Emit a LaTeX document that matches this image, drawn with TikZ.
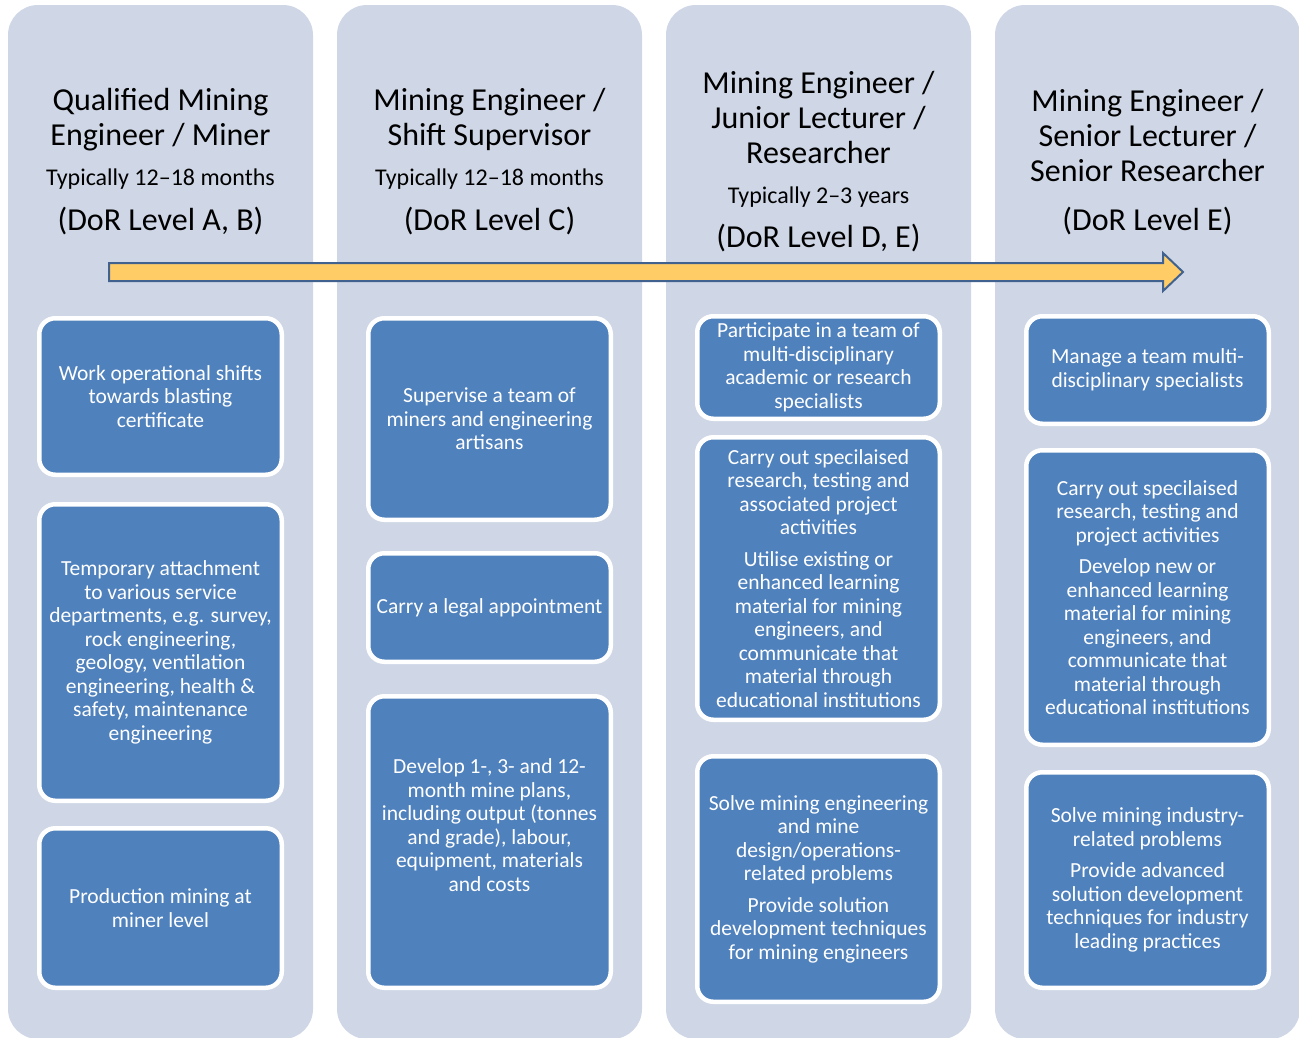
\documentclass[tikz,border=0pt]{standalone}
\usepackage{fontspec}
\setmainfont{Carlito}
\usetikzlibrary{positioning}
\definecolor{colfill}{RGB}{207,215,230}
\definecolor{boxblue}{RGB}{79,129,189}
\definecolor{arrowgold}{RGB}{255,204,102}
\definecolor{arrowedge}{RGB}{65,98,143}

\begin{document}
\begin{tikzpicture}[x=1pt,y=-1pt,
    column/.style={fill=colfill,rounded corners=30pt},
    task/.style={draw=white,line width=4.5pt,fill=boxblue,rounded corners=16pt,
                 text=white,minimum width=242.5pt,align=center,inner sep=0pt,
                 font=\fontsize{21.5}{23.5}\selectfont},
    role/.style={align=center,anchor=base,font=\fontsize{32}{35}\selectfont},
    period/.style={anchor=base,font=\fontsize{24}{26}\selectfont},
    level/.style={anchor=base,font=\fontsize{32}{35}\selectfont}]
  \useasboundingbox (0,0) rectangle (1299,1037);
  % columns
  \fill[column] (8,5) rectangle (313,1039);
  \fill[column] (337,5) rectangle (642,1039);
  \fill[column] (666,5) rectangle (971,1039);
  \fill[column] (995,5) rectangle (1300,1039);

  % headings (base = last line)
  \node[role]   (r1) at (160.5,145) {Qualified Mining\\Engineer / Miner};
  \node[period] (p1) at (160.5,185) {Typically 12–18 months};
  \node[level]  (l1) at (160.5,230) {(DoR Level A, B)};

  \node[role]   (r2) at (489.5,145) {Mining Engineer /\\Shift Supervisor};
  \node[period] (p2) at (489.5,185) {Typically 12–18 months};
  \node[level]  (l2) at (489.5,230) {(DoR Level C)};

  \node[role]   (r3) at (818.5,163) {Mining Engineer /\\Junior Lecturer /\\Researcher};
  \node[period] (p3) at (818.5,203) {Typically 2–3 years};
  \node[level]  (l3) at (818.5,247) {(DoR Level D, E)};

  \node[role]   (r4) at (1147.5,181) {Mining Engineer /\\Senior Lecturer /\\Senior Researcher};
  \node[level]  (l4) at (1147.5,230) {(DoR Level E)};

  % progression arrow
  \coordinate (tail) at (109,272);
  \coordinate (tip) at (1183,272);
  \draw[arrowedge,fill=arrowgold,line width=2pt]
    ([shift={(0,-9)}]tail) -- ++(1054,0) -- ++(0,-10) -- (tip) -- ++(-20,19)
    -- ++(0,-10) -- ([shift={(0,9)}]tail) -- cycle;

  % column 1
  \node[task,minimum height=156.5pt] (a1) at (160.5,396.5)
    {Work operational shifts\\towards blasting\\certificate};
  \node[task,minimum height=296.5pt] (a2) at (160.5,652.5)
    {Temporary attachment\\to various service\\departments, e.g. survey,\\rock engineering,\\geology, ventilation\\engineering, health \&\\safety, maintenance\\engineering};
  \node[task,minimum height=159.5pt] (a3) at (160.5,908)
    {Production mining at\\miner level};

  % column 2
  \node[task,minimum height=201.5pt] (b1) at (489.5,419)
    {Supervise a team of\\miners and engineering\\artisans};
  \node[task,minimum height=108.5pt] (b2) at (489.5,607.5)
    {Carry a legal appointment};
  \node[task,minimum height=291.5pt,text depth=34pt] (b3) at (489.5,842)
    {Develop 1-, 3- and 12-\\month mine plans,\\including output (tonnes\\and grade), labour,\\equipment, materials\\and costs};

  % column 3
  \node[task,minimum height=102.5pt] (c1) at (818.5,367.5)
    {Participate in a team of\\multi-disciplinary\\academic or research\\specialists};
  \node[task,minimum height=282.5pt] (c2) at (818.5,578.5)
    {Carry out specilaised\\research, testing and\\associated project\\activities\\[8pt]Utilise existing or\\enhanced learning\\material for mining\\engineers, and\\communicate that\\material through\\educational institutions};
  \node[task,minimum height=245.5pt] (c3) at (818.5,879)
    {Solve mining engineering\\and mine\\design/operations-\\related problems\\[8pt]Provide solution\\development techniques\\for mining engineers};

  % column 4
  \node[task,minimum height=107.5pt] (d1) at (1147.5,370)
    {Manage a team multi-\\disciplinary specialists};
  \node[task,minimum height=294.5pt] (d2) at (1147.5,597.5)
    {Carry out specilaised\\research, testing and\\project activities\\[8pt]Develop new or\\enhanced learning\\material for mining\\engineers, and\\communicate that\\material through\\educational institutions};
  \node[task,minimum height=215.5pt] (d3) at (1147.5,880)
    {Solve mining industry-\\related problems\\[8pt]Provide advanced\\solution development\\techniques for industry\\leading practices};
\end{tikzpicture}
\end{document}
